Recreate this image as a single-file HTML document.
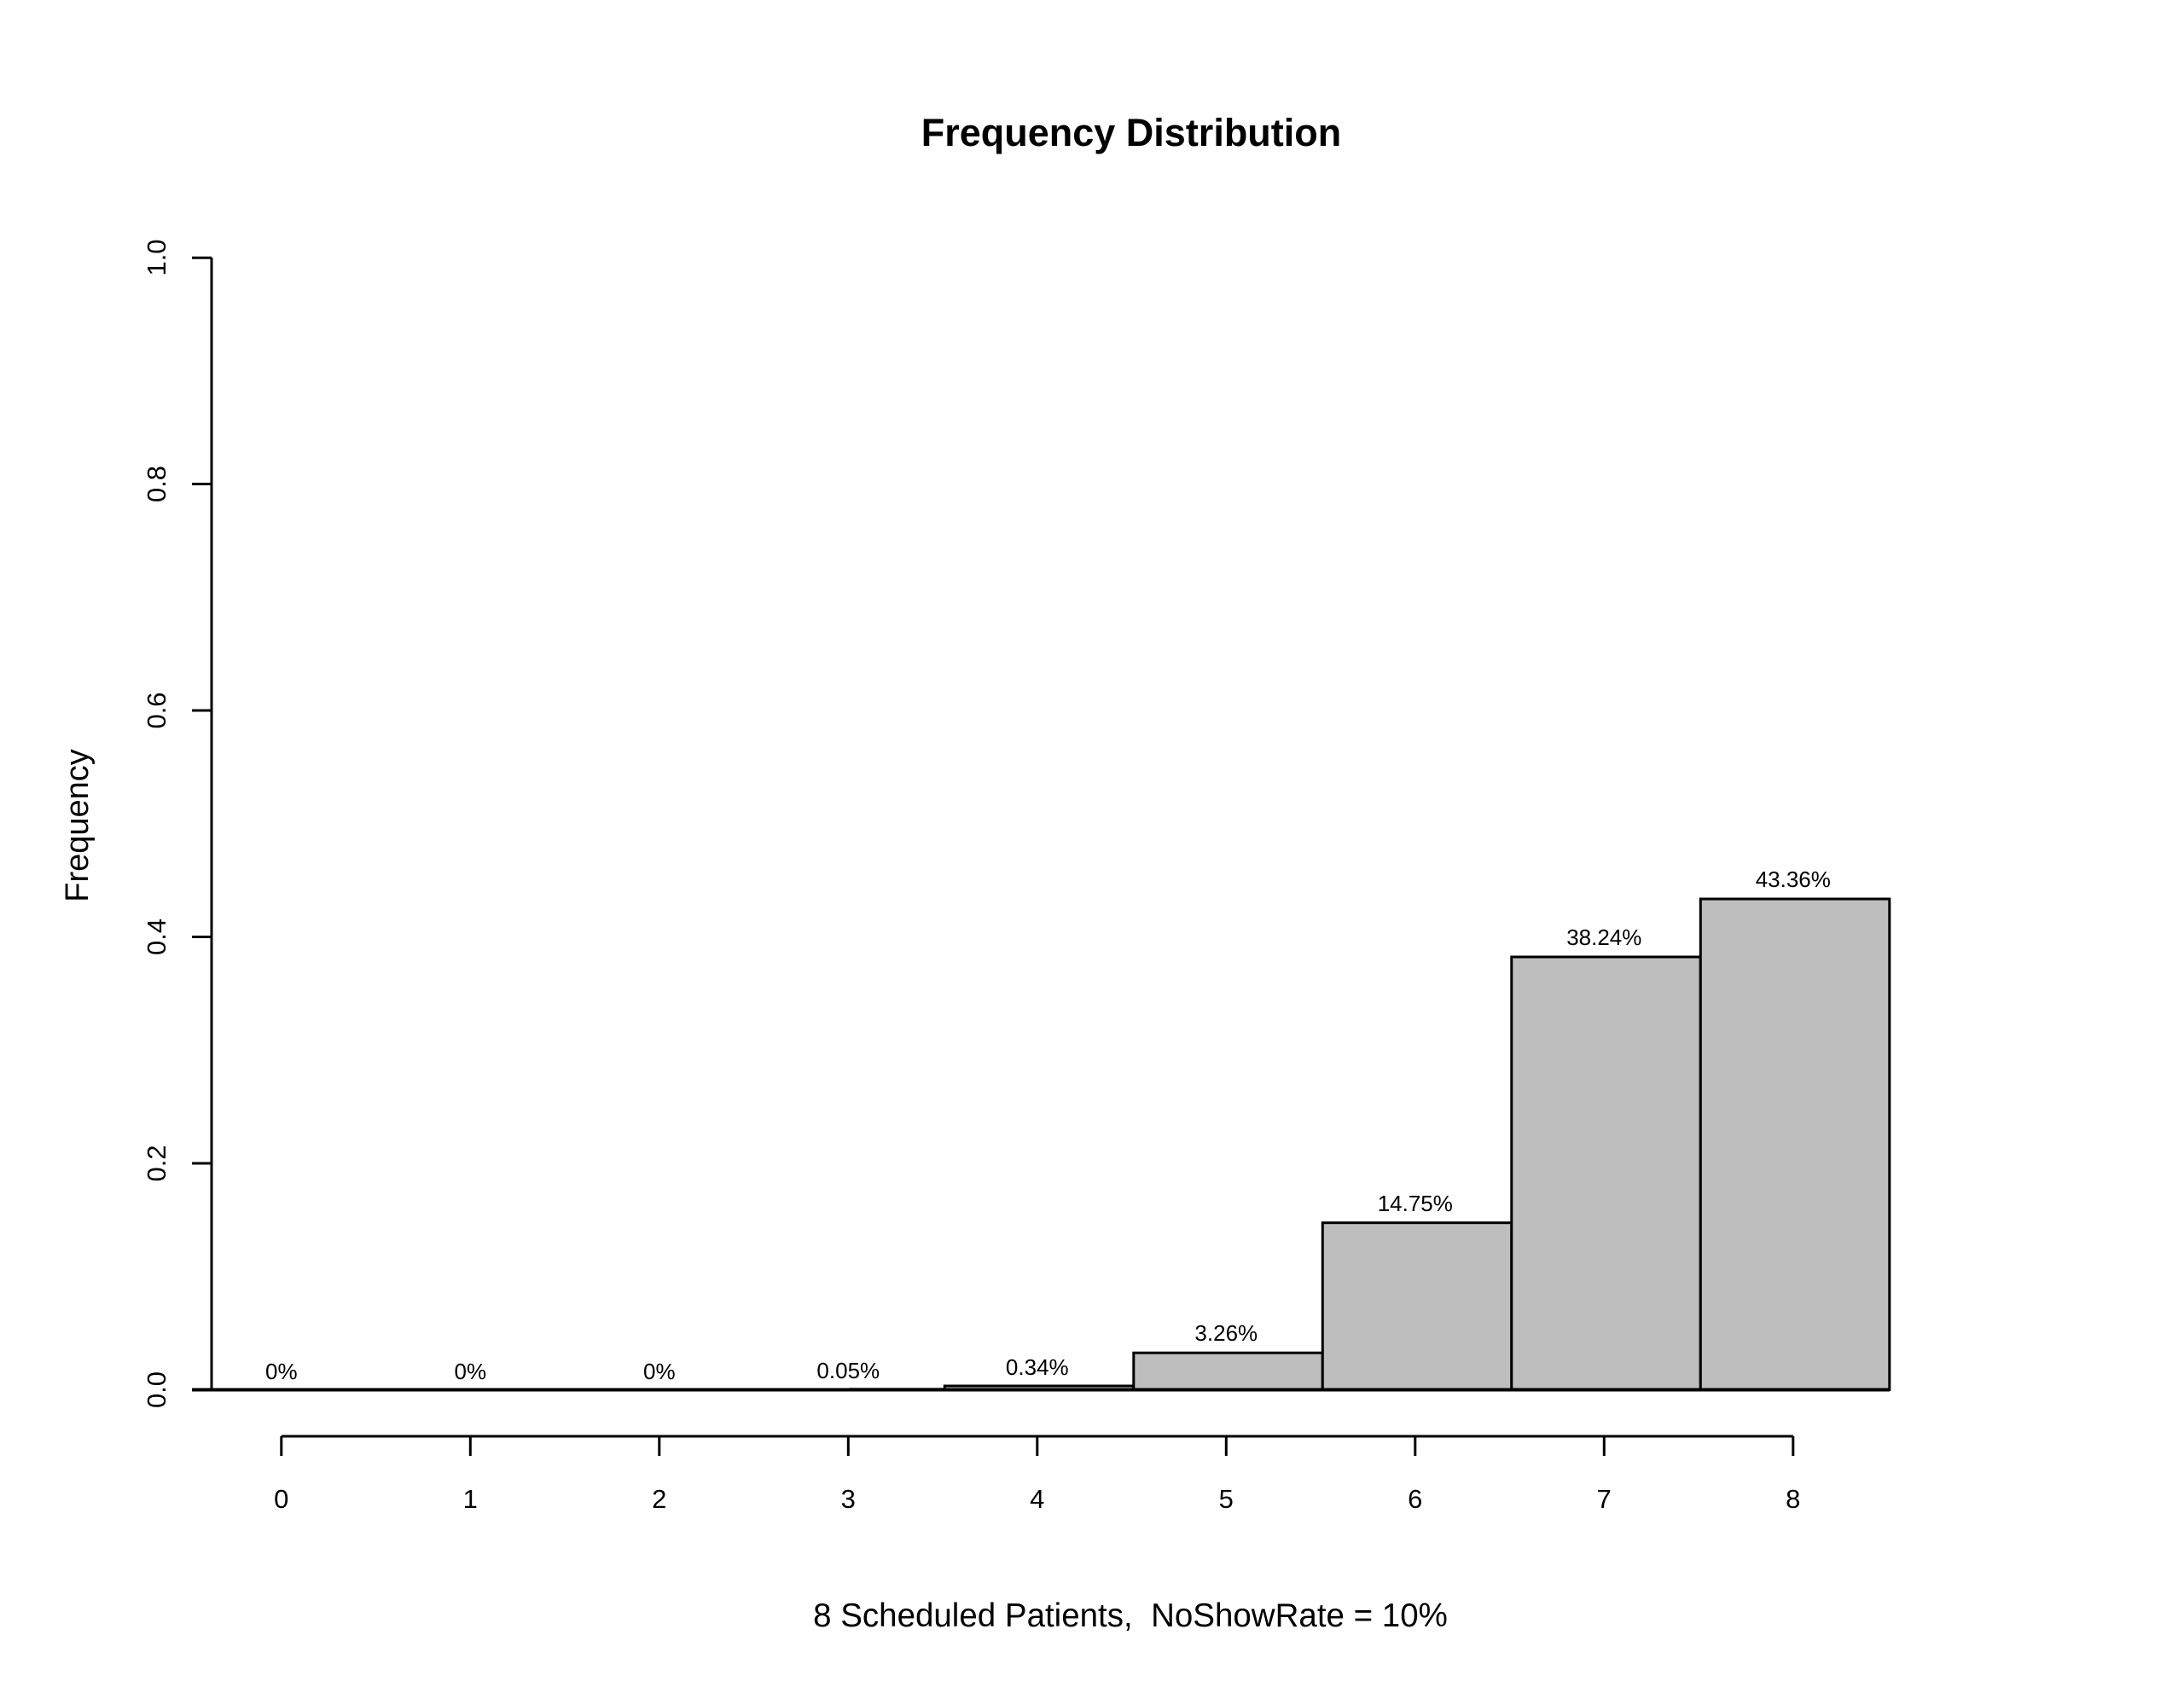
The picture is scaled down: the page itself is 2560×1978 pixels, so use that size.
<!DOCTYPE html>
<html><head><meta charset="utf-8"><style>html,body{margin:0;padding:0;background:#fff}svg{display:block}</style></head>
<body>
<svg width="2560" height="1978" viewBox="0 0 2560 1978" xmlns="http://www.w3.org/2000/svg" font-family="Liberation Sans, Arial, sans-serif">
<rect width="2560" height="1978" fill="#fff"/>
<text x="1326" y="171" font-size="45" font-weight="bold" text-anchor="middle">Frequency Distribution</text>
<g fill="#bebebe" stroke="#000" stroke-width="3">
<rect x="996.5" y="1628.8" width="221.5" height="0.7"/>
<rect x="1107.3" y="1625" width="221.5" height="4.5"/>
<rect x="1328.8" y="1586.2" width="221.5" height="43.3"/>
<rect x="1550.3" y="1433.7" width="221.5" height="195.8"/>
<rect x="1771.8" y="1122" width="221.5" height="507.5"/>
<rect x="1993.3" y="1054" width="221.5" height="575.5"/>
</g>
<line x1="225" y1="1629.5" x2="2215" y2="1629.5" stroke="#000" stroke-width="4"/>
<g stroke="#000" stroke-width="3">
<line x1="248" y1="302" x2="248" y2="1629.5"/>
<line x1="225" y1="302.2" x2="248" y2="302.2"/>
<line x1="225" y1="567.5" x2="248" y2="567.5"/>
<line x1="225" y1="833" x2="248" y2="833"/>
<line x1="225" y1="1098.5" x2="248" y2="1098.5"/>
<line x1="225" y1="1364" x2="248" y2="1364"/>
<line x1="225" y1="1629.5" x2="248" y2="1629.5"/>
</g>
<g font-size="31" text-anchor="middle">
<text transform="translate(194,302) rotate(-90)">1.0</text>
<text transform="translate(194,567.5) rotate(-90)">0.8</text>
<text transform="translate(194,833) rotate(-90)">0.6</text>
<text transform="translate(194,1098.5) rotate(-90)">0.4</text>
<text transform="translate(194,1364) rotate(-90)">0.2</text>
<text transform="translate(194,1629.5) rotate(-90)">0.0</text>
</g>
<text transform="translate(103,968) rotate(-90)" font-size="38" text-anchor="middle">Frequency</text>
<g stroke="#000" stroke-width="3">
<line x1="329.8" y1="1684" x2="2101.8" y2="1684"/>
<line x1="329.8" y1="1684" x2="329.8" y2="1707"/>
<line x1="551.3" y1="1684" x2="551.3" y2="1707"/>
<line x1="772.8" y1="1684" x2="772.8" y2="1707"/>
<line x1="994.3" y1="1684" x2="994.3" y2="1707"/>
<line x1="1215.8" y1="1684" x2="1215.8" y2="1707"/>
<line x1="1437.3" y1="1684" x2="1437.3" y2="1707"/>
<line x1="1658.8" y1="1684" x2="1658.8" y2="1707"/>
<line x1="1880.3" y1="1684" x2="1880.3" y2="1707"/>
<line x1="2101.8" y1="1684" x2="2101.8" y2="1707"/>
</g>
<g font-size="31" text-anchor="middle">
<text x="329.8" y="1768">0</text><text x="551.3" y="1768">1</text><text x="772.8" y="1768">2</text>
<text x="994.3" y="1768">3</text><text x="1215.8" y="1768">4</text><text x="1437.3" y="1768">5</text>
<text x="1658.8" y="1768">6</text><text x="1880.3" y="1768">7</text><text x="2101.8" y="1768">8</text>
</g>
<g font-size="26" text-anchor="middle">
<text x="329.8" y="1617">0%</text><text x="551.3" y="1617">0%</text><text x="772.8" y="1617">0%</text>
<text x="994.3" y="1616">0.05%</text><text x="1215.8" y="1612">0.34%</text><text x="1437.3" y="1572">3.26%</text>
<text x="1658.8" y="1420">14.75%</text><text x="1880.3" y="1108">38.24%</text><text x="2101.8" y="1040">43.36%</text>
</g>
<text x="1325" y="1907" font-size="38.5" text-anchor="middle" xml:space="preserve">8 Scheduled Patients,  NoShowRate = 10%</text>
</svg>
</body></html>
